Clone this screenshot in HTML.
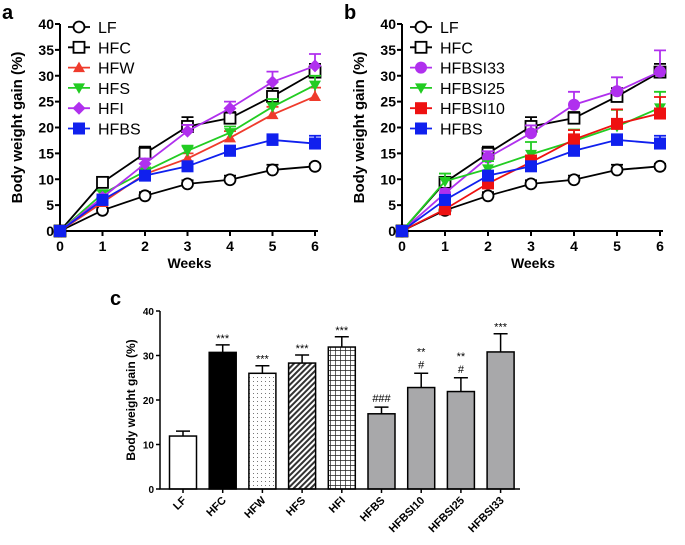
<!DOCTYPE html>
<html><head><meta charset="utf-8">
<style>
html,body{margin:0;padding:0;background:#fff;}
svg{display:block;font-family:"Liberation Sans",Arial,sans-serif;}
</style></head>
<body>
<svg id="fig" width="685" height="545" viewBox="0 0 685 545">
<defs>
<pattern id="dots" width="4" height="4" patternUnits="userSpaceOnUse"><rect width="4" height="4" fill="#fff"/><rect x="1" y="1" width="1" height="1" fill="#777"/></pattern>
<pattern id="hatch" width="4" height="4" patternUnits="userSpaceOnUse" patternTransform="rotate(45)"><rect width="4" height="4" fill="#fff"/><rect width="2" height="4" fill="#333"/></pattern>
<pattern id="grid" width="5" height="5" patternUnits="userSpaceOnUse"><rect width="5" height="5" fill="#fff"/><path d="M0 0H5M0 0V5" stroke="#222" stroke-width="1.4"/></pattern>
</defs>
</svg>
<script>
const weeks=[0,1,2,3,4,5,6];
const yTicks=[0,5,10,15,20,25,30,35,40];
const LF=[0,4,6.8,9.1,9.9,11.8,12.5];
const LFerr=[0,0.5,0.7,0.7,0.8,1,0.5];
const HFC=[0,9.4,15,20.2,21.8,26,30.7];
const HFCerr=[0,0.8,1.3,1.8,1.2,1.6,1.6];
const HFW=[0,5.5,11,14,18,22.5,26];
const HFWerr=[0,0.6,0.8,1,1.3,1.5,1.7];
const HFS=[0,7.2,11.5,15.5,19,24,28.2];
const HFSerr=[0,0.6,0.8,1,1.2,1.5,1.8];
const HFI=[0,6.5,13,19.3,23.7,28.8,31.9];
const HFIerr=[0,0.6,1,1.2,1.3,2,2.3];
const HFBS=[0,6,10.7,12.5,15.5,17.6,16.9];
const HFBSerr=[0,0.6,0.8,0.9,1,1.1,1.5];
const HFBSI33=[0,7.3,14.2,18.9,24.4,27,30.8];
const HFBSI33err=[0,0.8,1.2,1.5,2.5,2.7,4.1];
const HFBSI25=[0,9.6,12,14.8,17.4,20.2,23.8];
const HFBSI25err=[0,1.5,1.5,2.4,2.2,3.2,3.1];
const HFBSI10=[0,4.2,9.2,13.3,17.7,20.7,22.7];
const HFBSI10err=[0,0.6,1,1.3,1.8,2.8,3.2];
const barCats=["LF","HFC","HFW","HFS","HFI","HFBS","HFBSI10","HFBSI25","HFBSI33"];
const barVals=[11.9,30.7,26,28.3,31.9,16.9,22.8,21.9,30.8];
const barErrs=[1.1,1.7,1.7,1.8,2.3,1.5,3.2,3.1,4.1];
const barMarks=[["",""],["***",""],["***",""],["***",""],["***",""],["","###"],["**","#"],["**","#"],["***",""]];
const barTicks=[0,10,20,30,40];

const NS="http://www.w3.org/2000/svg";
const svg=document.getElementById('fig');
function mk(tag,attrs,parent,txt){const e=document.createElementNS(NS,tag);for(const k in attrs)e.setAttribute(k,attrs[k]);if(txt!==undefined)e.textContent=txt;(parent||svg).appendChild(e);return e;}

function marker(g,type,color,x,y){
  let e;
  if(type==='circle'){e=mk('circle',{cx:x,cy:y,r:5.5,fill:'#fff',stroke:color,'stroke-width':1.8},g);}
  else if(type==='osquare'){e=mk('rect',{x:x-5.5,y:y-5.5,width:11,height:11,fill:'#fff',stroke:color,'stroke-width':1.8},g);}
  else if(type==='square'){e=mk('rect',{x:x-6,y:y-6,width:12,height:12,fill:color},g);}
  else if(type==='tri'){e=mk('polygon',{points:`${x},${y-6} ${x+6},${y+4.5} ${x-6},${y+4.5}`,fill:color},g);}
  else if(type==='dtri'){e=mk('polygon',{points:`${x},${y+6} ${x+6},${y-4.5} ${x-6},${y-4.5}`,fill:color},g);}
  else if(type==='diamond'){e=mk('polygon',{points:`${x},${y-6.5} ${x+6.5},${y} ${x},${y+6.5} ${x-6.5},${y}`,fill:color},g);}
  else if(type==='dot'){e=mk('circle',{cx:x,cy:y,r:6,fill:color},g);}
  
  
}

function linePanel(name,letter,x0,x1,series){
  const y0=231,y1=24;
  const sx=w=>x0+(x1-x0)*w/6, sy=v=>y0-(y0-y1)*v/40;
  const g=mk('g',{});
  
  
  const lt=mk('text',{x:x0-58,y:19,'font-size':20,'font-weight':'bold'},g,letter);
  
  const ax=mk('path',{d:`M${x0} ${y1}V${y0}H${x1+3}`,stroke:'#000','stroke-width':2,fill:'none'},g);
  
  yTicks.forEach(t=>{mk('line',{x1:x0-5,x2:x0,y1:sy(t),y2:sy(t),stroke:'#000','stroke-width':2},g);
    const tx=mk('text',{x:x0-6,y:sy(t)+5,'font-size':14,'font-weight':'bold','text-anchor':'end'},g,t);
    });
  weeks.forEach(w=>{mk('line',{x1:sx(w),x2:sx(w),y1:y0,y2:y0+5,stroke:'#000','stroke-width':2},g);
    const tx=mk('text',{x:sx(w),y:y0+20,'font-size':14,'font-weight':'bold','text-anchor':'middle'},g,w);
    });
  const xt=mk('text',{x:(x0+x1)/2+2,y:268,'font-size':14,'font-weight':'bold','text-anchor':'middle'},g,'Weeks');
  
  const yt=mk('text',{transform:`translate(${x0-38},${(y0+y1)/2}) rotate(-90)`,'font-size':15,'font-weight':'bold','text-anchor':'middle'},g,'Body weight gain (%)');
  
  series.forEach(s=>{
    const sg=mk('g',{},g);
    
    s.v.forEach((v,i)=>{if(s.e[i]>0){const x=sx(weeks[i]);mk('path',{d:`M${x} ${sy(v)}V${sy(v+s.e[i])}M${x-6} ${sy(v+s.e[i])}H${x+6}`,stroke:s.c,'stroke-width':1.8},sg);}});
    mk('polyline',{points:s.v.map((v,i)=>sx(weeks[i])+','+sy(v)).join(' '),fill:'none',stroke:s.c,'stroke-width':1.8},sg);
    s.v.forEach((v,i)=>marker(sg,s.m,s.c,sx(weeks[i]),sy(v)));
  });
  series.forEach((s,i)=>{
    const ly=27+i*20.3, lg=mk('g',{},g);
    
    mk('line',{x1:x0+8,x2:x0+30,y1:ly,y2:ly,stroke:s.c,'stroke-width':1.8},lg);
    marker(lg,s.m,s.c,x0+19,ly);
    mk('text',{x:x0+38,y:ly+6,'font-size':16},lg,s.n);
  });
}
linePanel('line-chart-a','a',60,315,[
 {n:'LF',v:LF,e:LFerr,c:'#000',m:'circle'},
 {n:'HFC',v:HFC,e:HFCerr,c:'#000',m:'osquare'},
 {n:'HFW',v:HFW,e:HFWerr,c:'#ef3b2c',m:'tri'},
 {n:'HFS',v:HFS,e:HFSerr,c:'#22cc22',m:'dtri'},
 {n:'HFI',v:HFI,e:HFIerr,c:'#b030ee',m:'diamond'},
 {n:'HFBS',v:HFBS,e:HFBSerr,c:'#1020ee',m:'square'}]);
linePanel('line-chart-b','b',402,660,[
 {n:'LF',v:LF,e:LFerr,c:'#000',m:'circle'},
 {n:'HFC',v:HFC,e:HFCerr,c:'#000',m:'osquare'},
 {n:'HFBSI33',v:HFBSI33,e:HFBSI33err,c:'#b030ee',m:'dot'},
 {n:'HFBSI25',v:HFBSI25,e:HFBSI25err,c:'#22cc22',m:'dtri'},
 {n:'HFBSI10',v:HFBSI10,e:HFBSI10err,c:'#ee1111',m:'square'},
 {n:'HFBS',v:HFBS,e:HFBSerr,c:'#1020ee',m:'square'}]);

// Bar chart c
(function(){
  const x0=160,x1=520,y0=489,y1=311;
  const sy=v=>y0-(y0-y1)*v/40, cx=i=>183+i*39.7, bw=27;
  const fills=['#fff','#000','url(#dots)','url(#hatch)','url(#grid)','#a8a8aa','#a8a8aa','#a8a8aa','#a8a8aa'];
  const g=mk('g',{});
  
  const lt=mk('text',{x:110,y:305,'font-size':20,'font-weight':'bold'},g,'c');
  
  barVals.forEach((v,i)=>{
    const x=cx(i), e=barErrs[i];
    mk('path',{d:`M${x} ${sy(v)}V${sy(v+e)}M${x-7} ${sy(v+e)}H${x+7}`,stroke:'#000','stroke-width':1.5},g);
    const r=mk('rect',{x:x-bw/2,y:sy(v),width:bw,height:y0-sy(v),fill:fills[i],stroke:'#000','stroke-width':1.5},g);
    
    const m=barMarks[i];
    if(m[1]){mk('text',{x:x,y:sy(v+e)-5,'font-size':11,'text-anchor':'middle'},g,m[1]);}
    if(m[0]){mk('text',{x:x,y:sy(v+e)-(m[1]?22:7)+4,'font-size':11,'text-anchor':'middle'},g,m[0]);}
    const tx=mk('text',{transform:`translate(${x+4},${y0+12}) rotate(-45)`,'font-size':11,'font-weight':'bold','text-anchor':'end'},g,barCats[i]);
    
  });
  const ax=mk('path',{d:`M${x0} ${y1}V${y0}H${x1}`,stroke:'#000','stroke-width':1.5,fill:'none'},g);
  
  barTicks.forEach(t=>{mk('line',{x1:x0-4,x2:x0,y1:sy(t),y2:sy(t),stroke:'#000','stroke-width':1.5},g);
    const tx=mk('text',{x:x0-6,y:sy(t)+4,'font-size':10,'font-weight':'bold','text-anchor':'end'},g,t);
    });
  barCats.forEach((c,i)=>mk('line',{x1:cx(i),x2:cx(i),y1:y0,y2:y0+4,stroke:'#000','stroke-width':1.5},g));
  const yt=mk('text',{transform:`translate(135,${(y0+y1)/2}) rotate(-90)`,'font-size':12,'font-weight':'bold','text-anchor':'middle'},g,'Body weight gain (%)');
  
})();
</script>
</body></html>
